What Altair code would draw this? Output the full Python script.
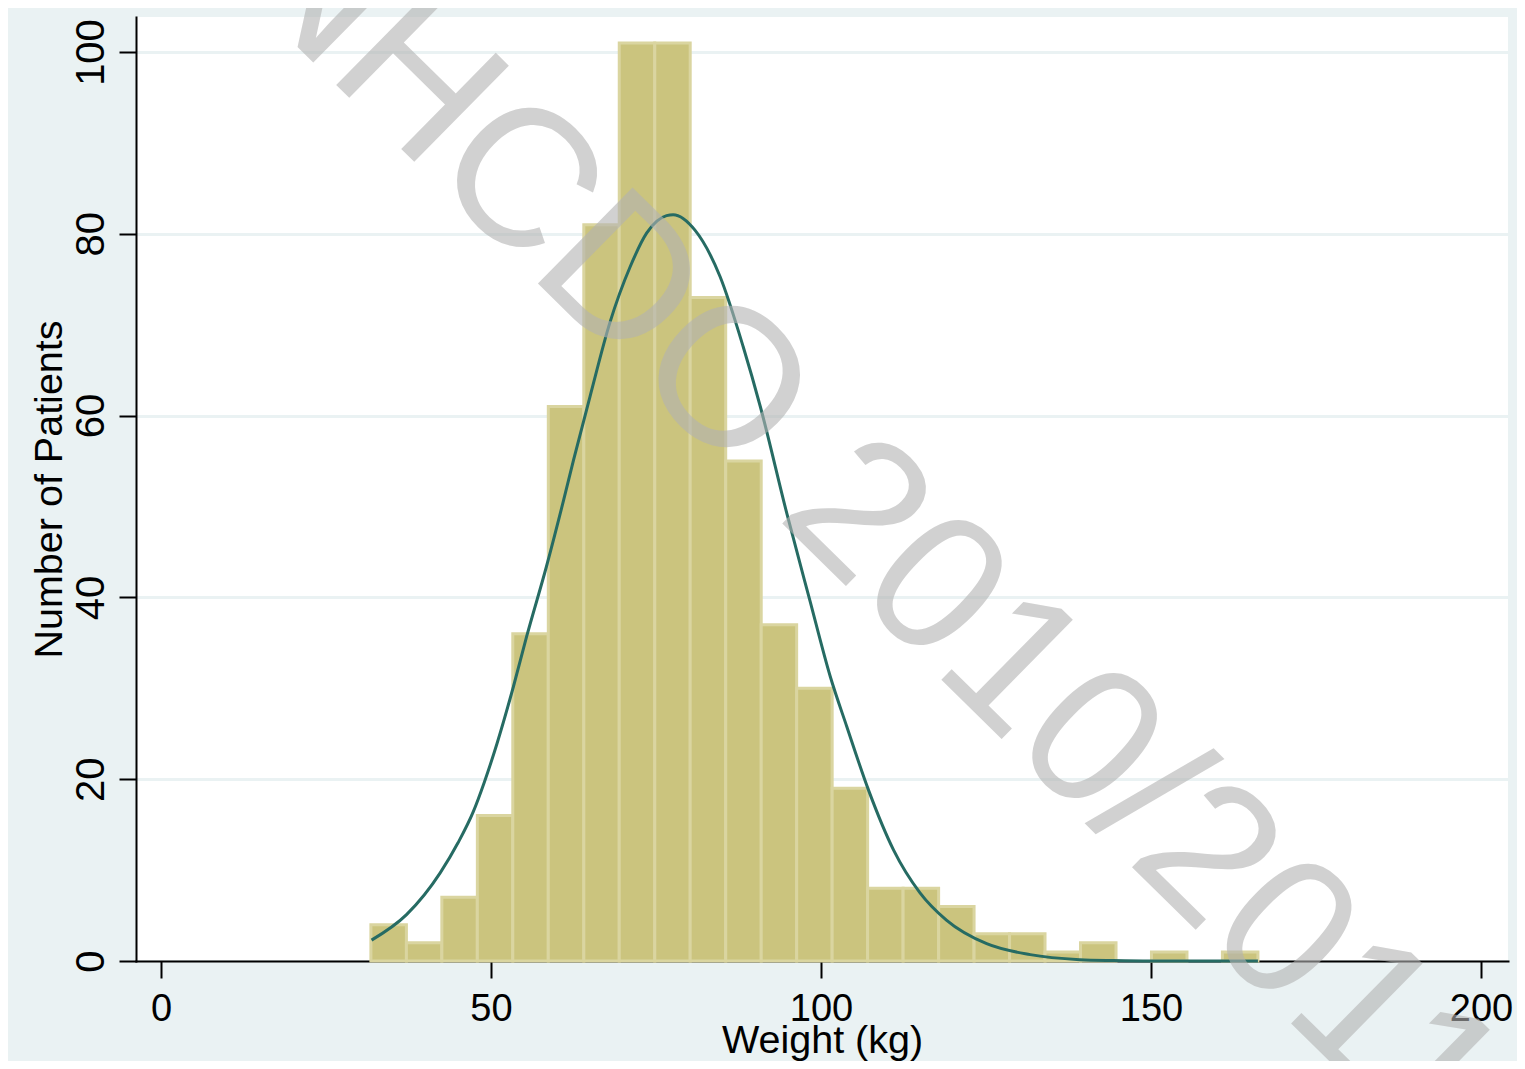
import altair as alt
import pandas as pd

# Histogram bins (kg) and counts
bin_left = [31.80, 37.18, 42.55, 47.93, 53.30, 58.68, 64.06, 69.43, 74.81, 80.18,
            85.56, 90.94, 96.31, 101.69, 107.06, 112.44, 117.82, 123.19, 128.57, 133.94,
            139.32, 144.70, 150.07, 155.45, 160.82]
bin_right = [37.18, 42.55, 47.93, 53.30, 58.68, 64.06, 69.43, 74.81, 80.18, 85.56,
             90.94, 96.31, 101.69, 107.06, 112.44, 117.82, 123.19, 128.57, 133.94, 139.32,
             144.70, 150.07, 155.45, 160.82, 166.20]
counts = [4, 2, 7, 16, 36, 61, 81, 101, 101, 73,
          55, 37, 30, 19, 8, 8, 6, 3, 3, 1,
          2, 0, 1, 0, 1]

# Overlaid normal curve
curve_x = [31.9, 37.2, 42.3, 45.0, 47.3, 49.0, 50.9, 53.4, 55.4, 58.4, 61.0, 62.5, 65.0, 68.0,
           71.1, 73.6, 76.6, 77.6, 80.9, 84.7, 88.2, 90.8, 94.8, 98.3, 101.4, 103.9,
           107.2, 111.0, 115.0, 119.0, 125.1, 131.7, 139.2, 144.3, 150.0, 166.2]
curve_y = [2.3, 5.1, 9.7, 13.0, 16.4, 19.7, 23.9, 30.2, 35.7, 43.4, 50.7, 55.1, 62.1, 70.2,
           76.4, 80.1, 82.0, 82.1, 80.4, 75.3, 67.6, 61.0, 49.3, 39.7, 31.3, 25.8,
           18.8, 12.2, 7.5, 4.5, 1.9, 0.7, 0.15, 0.05, 0.0, 0.0]

x_ticks = [0, 50, 100, 150, 200]
y_ticks = [0, 20, 40, 60, 80, 100]
x_title = "Weight (kg)"
y_title = "Number of Patients"
watermark = "NHCDO 2010/2011"

bars_df = pd.DataFrame({"left": bin_left, "right": bin_right, "count": counts})
bars_df = bars_df[bars_df["count"] > 0]
curve_df = pd.DataFrame({"left": curve_x, "count": curve_y})
wm_df = pd.DataFrame({"t": [watermark]})

FONT = "Liberation Sans"
xscale = alt.Scale(domain=[-3.79, 204.09], nice=False, zero=False)
yscale = alt.Scale(domain=[0, 103.85], nice=False, zero=False)

xaxis = alt.Axis(values=x_ticks, title=x_title, grid=False, tickSize=17,
                 labelPadding=12, labelFontSize=38, format="d",
                 titleBaseline="alphabetic", titleY=91)
yaxis = alt.Axis(values=y_ticks, title=y_title, grid=True, tickSize=17,
                 labelAngle=-90, labelAlign="center", labelBaseline="alphabetic",
                 labelPadding=16, labelFontSize=40, format="d",
                 titleBaseline="alphabetic", titleX=-75)

bars = alt.Chart(bars_df).mark_rect(
    fill="#CBC47E", stroke="#DAD5A0", strokeWidth=3
).encode(
    x=alt.X("left:Q", scale=xscale, axis=xaxis),
    x2="right:Q",
    y=alt.Y("count:Q", scale=yscale, axis=yaxis),
    y2=alt.datum(0),
)

curve = alt.Chart(curve_df).mark_line(
    color="#266B63", strokeWidth=3, interpolate="monotone"
).encode(
    x=alt.X("left:Q", scale=xscale, axis=xaxis),
    y=alt.Y("count:Q", scale=yscale, axis=yaxis),
)

wm = alt.Chart(wm_df).mark_text(
    font=FONT, fontSize=196, angle=44.5, align="center", baseline="middle",
    color="#B3B3B3", opacity=0.6
).encode(
    text="t:N",
    x=alt.value(730),
    y=alt.value(506),
)

chart = alt.layer(bars, curve, wm).properties(
    width=1372, height=944,
    background="#EAF2F3",
    padding={"left": 128, "top": 9, "right": 9, "bottom": 100},
    autosize=alt.AutoSizeParams(type="none"),
).configure_view(
    fill="white", stroke=None
).configure_axis(
    domainColor="black", domainWidth=2, tickColor="black", tickWidth=2,
    labelFont=FONT, labelColor="black",
    titleFont=FONT, titleFontSize=39.5, titleColor="black", titleFontWeight="normal",
    gridColor="#EAF2F3", gridWidth=3, domainCap="square",
)

chart.save("out.html", embed_options={"renderer": "svg", "actions": False})
